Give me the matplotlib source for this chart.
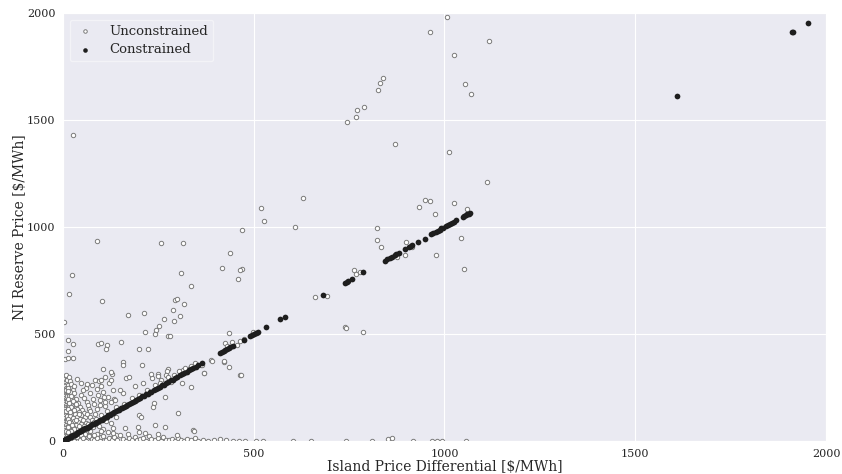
import numpy as np
import matplotlib.pyplot as plt
import seaborn as sns

# Unconstrained points: (island price differential, NI reserve price)
unc_outliers = [
    (1007, 1980), (962, 1911), (1117, 1869), (1025, 1804), (1054, 1668), (1069, 1621),
    (838, 1696), (831, 1673), (827, 1640), (789, 1561), (771, 1545), (768, 1514),
    (744, 1491), (870, 1388), (1012, 1350), (1111, 1212), (26, 1430),
    (629, 1135), (519, 1089), (527, 1028), (469, 986), (608, 1000), (823, 995),
    (823, 939), (834, 907), (438, 878), (417, 808), (469, 804), (464, 799),
    (459, 757), (763, 799), (768, 780), (778, 790), (660, 673), (692, 678),
    (875, 860), (899, 930), (897, 869), (916, 907), (933, 1093), (949, 1126),
    (962, 1121), (975, 1061), (978, 869), (1025, 1112), (1043, 949), (1051, 804),
    (1059, 1084), (988, 986), (739, 533), (786, 509), (742, 528),
    (89, 935), (257, 925), (315, 925), (24, 776), (16, 687), (102, 656),
    (309, 785), (335, 724), (3, 556), (170, 589), (212, 598), (215, 509),
    (152, 463), (199, 430), (223, 430), (294, 659), (299, 664), (317, 640),
    (288, 612), (307, 584), (291, 561), (265, 570), (252, 537), (244, 519),
    (241, 500), (275, 491), (280, 491), (13, 472), (26, 453), (13, 420),
    (5, 383), (13, 388), (26, 388), (92, 453), (115, 449), (113, 430),
    (157, 369), (157, 355), (207, 355), (275, 336), (273, 327), (105, 336),
    (128, 313), (249, 313), (233, 294), (312, 271), (435, 505), (422, 369),
    (435, 346), (464, 308), (388, 378), (362, 355), (369, 318),
]

unc_cluster = [
    (2, 305), (5, 298), (1, 290), (7, 282), (3, 275), (6, 270), (2, 262), (4, 255),
    (8, 250), (1, 245), (5, 240), (3, 232), (7, 226), (2, 220), (6, 214), (4, 208),
    (1, 200), (8, 195), (3, 188), (5, 180), (2, 175), (7, 168), (4, 160), (1, 155),
    (6, 148), (3, 140), (8, 135), (2, 128), (5, 120), (1, 115), (4, 108), (7, 100),
    (3, 95), (6, 88), (2, 80), (8, 74), (1, 66), (5, 60), (3, 52), (7, 45),
    (4, 38), (2, 30), (6, 22), (1, 15), (3, 8), (9, 310), (10, 285), (12, 262),
    (9, 238), (11, 210), (10, 186), (12, 165), (9, 142), (11, 118), (10, 92),
    (12, 70), (9, 48), (11, 25), (15, 300), (18, 280), (22, 265), (14, 250),
    (26, 240), (19, 228), (30, 222), (16, 210), (24, 205), (35, 198), (20, 190),
    (28, 182), (40, 176), (17, 170), (33, 165), (45, 160), (23, 155), (38, 150),
    (50, 146), (27, 140), (42, 135), (55, 130), (31, 126), (47, 122), (19, 118),
    (36, 114), (58, 110), (25, 106), (44, 102), (52, 98), (29, 94), (39, 90),
    (60, 86), (21, 82), (48, 78), (34, 74), (56, 70), (26, 66), (43, 62),
    (17, 58), (37, 54), (53, 50), (30, 46), (46, 42), (22, 38), (58, 34),
    (40, 30), (15, 26), (32, 22), (50, 18), (25, 14), (44, 10), (35, 6), (18, 4),
    (60, 250), (52, 238), (46, 214), (56, 200), (62, 182), (65, 166), (68, 150),
    (72, 140), (64, 124), (70, 110), (75, 96), (66, 80), (78, 64), (71, 48),
    (67, 30), (74, 14), (85, 285), (95, 280), (110, 300), (120, 270), (100, 258),
    (88, 245), (130, 240), (105, 230), (92, 215), (118, 205), (135, 198),
    (98, 190), (125, 180), (82, 172), (110, 165), (140, 160), (90, 150),
    (115, 140), (128, 130), (100, 120), (138, 112), (86, 104), (112, 95),
    (125, 82), (95, 72), (132, 62), (105, 55), (118, 42), (88, 35), (140, 28),
    (100, 20), (125, 12), (14, 232), (20, 212), (13, 196), (27, 188), (15, 176),
    (34, 172), (21, 160), (13, 150), (29, 146), (18, 136), (41, 124), (13, 104),
    (33, 98), (16, 88), (24, 76), (42, 70), (14, 64), (28, 56), (20, 48),
    (13, 40), (36, 36), (26, 28), (48, 26), (18, 16), (56, 8), (64, 58),
    (80, 90), (84, 124), (78, 198), (70, 226), (96, 168), (108, 204), (62, 268),
    (76, 262), (36, 290), (48, 272), (30, 258),
]

unc_mid = [
    (100, 458), (126, 322), (100, 285), (126, 285), (165, 294), (173, 299),
    (189, 257), (210, 271), (231, 313), (249, 304), (270, 308), (257, 285),
    (283, 276), (315, 332), (333, 341), (364, 355), (370, 318), (335, 252),
    (267, 206), (239, 178), (236, 159), (199, 121), (204, 112), (157, 224),
    (136, 192), (110, 182), (149, 238), (241, 75), (267, 65), (341, 51),
    (301, 131), (197, 65), (162, 61), (215, 37), (343, 47),
    (160, 175), (180, 200), (200, 215), (220, 240), (240, 262), (255, 270),
    (275, 300), (290, 310), (305, 325), (320, 340), (335, 352), (345, 365),
    (425, 458), (443, 463), (456, 449), (464, 467), (474, 477), (430, 444),
    (391, 374), (422, 374), (467, 308), (498, 509), (508, 505),
]

unc_floor = [
    (15, 3), (22, 10), (30, 2), (38, 18), (45, 6), (52, 12), (60, 1), (68, 22),
    (75, 8), (82, 4), (90, 15), (98, 2), (105, 25), (112, 7), (120, 12), (128, 3),
    (135, 18), (142, 5), (150, 28), (158, 10), (165, 2), (172, 14), (180, 6),
    (188, 20), (195, 3), (203, 9), (210, 15), (218, 2), (225, 24), (232, 8),
    (240, 4), (248, 12), (256, 1), (263, 18), (270, 6), (278, 3), (286, 10),
    (294, 2), (302, 14), (310, 5), (318, 1), (326, 8), (335, 3), (345, 12),
    (355, 2), (368, 6), (380, 1), (395, 4), (411, 9), (428, 3), (445, 0),
    (462, 2), (478, 1), (300, 30), (250, 35), (200, 40), (170, 32), (130, 38),
    (100, 45), (80, 30), (506, 1), (524, 1), (603, 0), (650, 0), (741, 0),
    (810, 0), (852, 10), (862, 14), (917, 0), (967, 0), (980, 0), (993, 0),
    (1056, 0),
]

# Constrained points sit on the reserve price = differential line
cons_x = [0.5, 2, 3, 5, 6, 8, 9, 11, 13, 14, 16, 18, 20, 22, 24, 26, 28, 31, 33, 35,
          38, 40, 43, 45, 48, 51, 53, 56, 59, 62, 65, 68, 71, 74, 77, 80, 84, 87, 90,
          94, 97, 101, 104, 108, 112, 115, 119, 123, 127, 131, 135, 139, 143, 147,
          152, 156, 160, 165, 169, 174, 178, 183, 188, 192, 197, 202, 207, 212, 217,
          222, 227, 232, 238, 243, 248, 254, 259, 265, 270, 276, 282, 288, 294, 300,
          306, 312, 318, 324, 330, 336, 342, 348, 355, 365,
          411, 416, 421, 425, 430, 434, 439, 445, 474, 490, 496, 500, 505, 511, 532,
          569, 582, 681, 739, 744, 748, 757, 786, 843, 849, 856, 862, 869, 874, 881,
          896, 907, 912, 916, 931, 949, 965, 970, 977, 982, 987, 992, 997, 1004,
          1010, 1015, 1020, 1025, 1030, 1048, 1052, 1056, 1059, 1063, 1067,
          1610, 1910, 1914, 1952]
cons_y = [1, 2, 4, 5, 7, 8, 10, 11, 12, 15, 16, 17, 21, 22, 23, 27, 28, 30, 34, 35,
          37, 41, 42, 46, 47, 50, 54, 55, 60, 61, 66, 67, 72, 73, 78, 79, 85, 86, 91,
          93, 98, 100, 105, 107, 113, 114, 120, 122, 128, 130, 136, 138, 144, 146,
          153, 155, 161, 164, 170, 173, 179, 182, 189, 191, 198, 201, 208, 211, 218,
          221, 228, 231, 239, 242, 249, 253, 260, 264, 271, 275, 283, 287, 295, 299,
          307, 311, 319, 323, 331, 335, 343, 347, 356, 364,
          411, 416, 420, 426, 430, 435, 439, 446, 473, 490, 495, 501, 505, 510, 531,
          568, 581, 680, 738, 744, 749, 757, 788, 842, 850, 855, 862, 868, 874, 880,
          897, 906, 912, 917, 930, 946, 966, 970, 976, 983, 987, 993, 996, 1004,
          1010, 1016, 1020, 1024, 1031, 1049, 1052, 1057, 1060, 1062, 1066,
          1612, 1910, 1913, 1953]

unc = np.array(unc_outliers + unc_cluster + unc_mid + unc_floor)

sns.set_style("darkgrid")
plt.rcParams['font.family'] = ['DejaVu Serif']

fig = plt.figure(figsize=(8.42, 4.74), dpi=100)
ax = fig.add_axes([0.0748, 0.0696, 0.9062, 0.903])

ax.scatter(unc[:, 0], unc[:, 1], s=10, facecolor='white', edgecolor='#7a7a7a',
           linewidth=0.7, label='Unconstrained', zorder=2)
ax.scatter(cons_x, cons_y, s=17, color='#1e1e1e', linewidth=0,
           label='Constrained', zorder=3)

ax.set_xlim(0, 2000)
ax.set_ylim(0, 2000)
ax.set_xticks([0, 500, 1000, 1500, 2000])
ax.set_yticks([0, 500, 1000, 1500, 2000])
ax.tick_params(labelsize=8, pad=2)
ax.set_xlabel('Island Price Differential [$/MWh]', fontsize=10, labelpad=1)
ax.set_ylabel('NI Reserve Price [$/MWh]', fontsize=10, labelpad=0)

leg = ax.legend(loc='upper left', fontsize=9.5, scatterpoints=1, frameon=True,
                facecolor='#EAEAF2', edgecolor='#F3F3F7', framealpha=1,
                borderpad=0.4, labelspacing=0.4, handlelength=1.6,
                handletextpad=1.0, markerscale=0.8)

fig.savefig('out.png', dpi=100)
